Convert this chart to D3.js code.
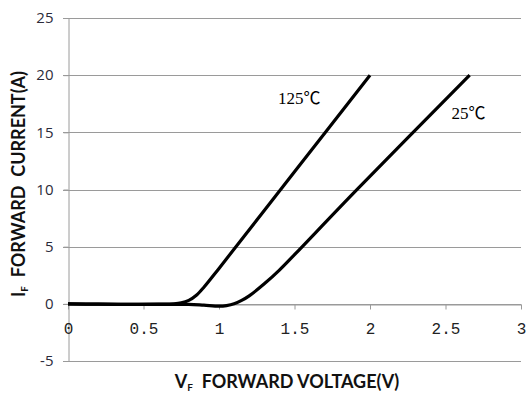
<!DOCTYPE html>
<html>
<head>
<meta charset="utf-8">
<script src="https://cdn.jsdelivr.net/npm/d3@7"></script>
<style>
  body { margin: 0; background: #fff; }
  svg { display: block; }
</style>
</head>
<body>
<svg id="chart" width="526" height="394"></svg>
<script>
// forward voltage (V) vs forward current (A)
const vf125 = [0, 0.2, 0.4, 0.6, 0.7, 0.75, 0.8, 0.85, 0.9, 1.0, 1.5, 2.0];
const if125 = [0, -0.03, -0.05, -0.03, 0, 0.08, 0.3, 0.75, 1.45, 3.1, 11.55, 20];

const vf25 = [0, 0.2, 0.4, 0.6, 0.8, 0.9, 1.0, 1.05, 1.1, 1.15, 1.2, 1.3, 1.4, 1.5, 1.91, 2.66];
const if25 = [0, -0.03, -0.05, -0.05, -0.05, -0.12, -0.2, -0.15, 0, 0.3, 0.7, 1.75, 2.95, 4.3, 9.95, 20];

const xTicks = [0, 0.5, 1, 1.5, 2, 2.5, 3];
const yTicks = [-5, 0, 5, 10, 15, 20, 25];

const svg = d3.select("#chart");

const x = d3.scaleLinear().domain([0, 3]).range([68, 521]);
const y = d3.scaleLinear().domain([-5, 25]).range([361, 18]);

// horizontal grid
svg.append("g")
  .selectAll("line")
  .data(yTicks)
  .enter()
  .append("line")
  .attr("x1", x(0) - 5)
  .attr("x2", x(3))
  .attr("y1", d => Math.round(y(d)) + 0.5)
  .attr("y2", d => Math.round(y(d)) + 0.5)
  .style("stroke", "#9a9a9a")
  .style("stroke-width", 1);

// y axis
const yAxis = svg.append("g")
  .attr("transform", `translate(${x(0) + 0.5},0)`)
  .call(d3.axisLeft(y).tickValues(yTicks).tickSize(5).tickSizeOuter(0).tickFormat(d => String(d)));
yAxis.select(".domain").style("stroke", "#9a9a9a");
yAxis.selectAll(".tick line").style("stroke", "#9a9a9a");
yAxis.selectAll(".tick text")
  .attr("x", -15)
  .style("font-family", "'Open Sans', sans-serif")
  .style("font-size", "15px")
  .style("fill", "#2b2b3a");

// x axis sitting on I = 0
const xAxis = svg.append("g")
  .attr("transform", `translate(0,${Math.round(y(0)) + 0.5})`)
  .call(d3.axisBottom(x).tickValues(xTicks).tickSize(5).tickSizeOuter(0).tickFormat(d => String(d)));
xAxis.select(".domain").style("stroke", "#9a9a9a");
xAxis.selectAll(".tick line").style("stroke", "#9a9a9a");
xAxis.selectAll(".tick text")
  .attr("y", 29)
  .attr("dy", 0)
  .style("font-family", "'Liberation Mono', monospace")
  .style("font-size", "16px")
  .style("fill", "#222");

// curves
const line = d3.line()
  .x(d => x(d[0]))
  .y(d => y(d[1]))
  .curve(d3.curveCatmullRom.alpha(0.5));

const series = [
  { v: vf25, i: if25 },
  { v: vf125, i: if125 }
];

svg.append("g")
  .selectAll("path")
  .data(series)
  .enter()
  .append("path")
  .attr("d", s => line(s.v.map((v, k) => [v, s.i[k]])))
  .style("fill", "none")
  .style("stroke", "#000")
  .style("stroke-width", 3.2)
  .style("stroke-linejoin", "round");

// curve labels
svg.append("text")
  .attr("x", x(1.39)).attr("y", y(17.45))
  .style("font-family", "'Liberation Serif', 'Noto Sans CJK SC', serif")
  .style("font-size", "17px")
  .text("125℃");
svg.append("text")
  .attr("x", x(2.54)).attr("y", y(16.15))
  .style("font-family", "'Liberation Serif', 'Noto Sans CJK SC', serif")
  .style("font-size", "17px")
  .text("25℃");

// axis titles
const yTitle = svg.append("text")
  .attr("transform", "translate(25,184) rotate(-90)")
  .attr("text-anchor", "middle")
  .style("font-family", "Lato, sans-serif")
  .style("font-weight", "bold")
  .style("font-size", "18px")
  .style("fill", "#111");
yTitle.append("tspan").text("I");
yTitle.append("tspan").attr("dy", 3).style("font-size", "10px").text("F");
yTitle.append("tspan").attr("dy", -3).text("\u00a0 FORWARD\u00a0 CURRENT(A)");

const xTitle = svg.append("text")
  .attr("x", 287).attr("y", 388)
  .attr("text-anchor", "middle")
  .style("font-family", "Lato, sans-serif")
  .style("font-weight", "bold")
  .style("font-size", "18px")
  .style("fill", "#111");
xTitle.append("tspan").text("V");
xTitle.append("tspan").attr("dy", 3).style("font-size", "10px").text("F");
xTitle.append("tspan").attr("dy", -3).text("\u00a0 FORWARD VOLTAGE(V)");
</script>
</body>
</html>
